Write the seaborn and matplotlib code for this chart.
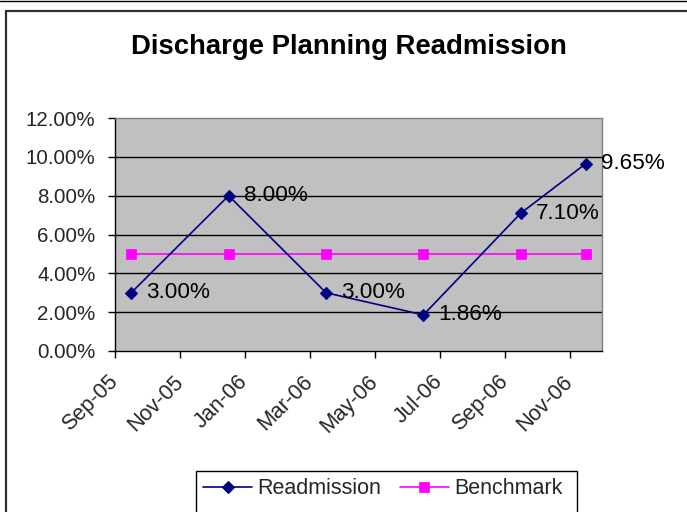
import matplotlib
matplotlib.use("Agg")
import matplotlib.pyplot as plt
import matplotlib.transforms as mtrans
from matplotlib.lines import Line2D
from matplotlib.patches import Rectangle
import seaborn as sns
import pandas as pd
import numpy as np

# ---- data ----
months = ["2005-09", "2005-12", "2006-03", "2006-06", "2006-09", "2006-11"]
readmission = [0.0300, 0.0800, 0.0300, 0.0186, 0.0710, 0.0965]
benchmark = [0.05, 0.05, 0.05, 0.05, 0.05, 0.05]
tick_labels = ["Sep-05", "Nov-05", "Jan-06", "Mar-06", "May-06", "Jul-06", "Sep-06", "Nov-06"]
y_ticks = [0.00, 0.02, 0.04, 0.06, 0.08, 0.10, 0.12]

sns.set_theme(style="white")
plt.rcParams["font.family"] = ["Liberation Sans", "DejaVu Sans"]

start = pd.Period("2005-09", freq="M")
pos = [(pd.Period(m, freq="M") - start).n + 0.5 for m in months]
df = pd.DataFrame({"x": pos, "Readmission": readmission, "Benchmark": benchmark})

W, H = 687, 512
fig = plt.figure(figsize=(W / 100, H / 100), dpi=100)
fig.patch.set_facecolor("white")
ax = fig.add_axes([115 / W, 1 - 351 / H, (602 - 115) / W, (351 - 118) / H])
ax.set_facecolor("#C0C0C0")

for y in y_ticks[1:-1]:
    ax.axhline(y, color="black", lw=1.0, zorder=1)

sns.lineplot(data=df, x="x", y="Readmission", ax=ax, color="#000080", lw=1.2,
             marker="D", markersize=6, markeredgecolor="#000080", markeredgewidth=0.8,
             label="Readmission", zorder=4, legend=False)
sns.lineplot(data=df, x="x", y="Benchmark", ax=ax, color="#FF00FF", lw=1.2,
             marker="s", markersize=7, markeredgecolor="#FF00FF", markeredgewidth=0.5,
             label="Benchmark", zorder=3, legend=False)

for x, v in zip(pos, readmission):
    ax.annotate(f"{v*100:.2f}%", (x, v), xytext=(11, 0), textcoords="offset points",
                ha="left", va="center", fontsize=16.2, color="black", zorder=5)

ax.set_xlim(0, 15)
ax.set_ylim(0, 0.12)
ax.set_xticks(np.arange(0, 16, 2))
ax.set_xticklabels(tick_labels, rotation=45, ha="right", va="center",
                   rotation_mode="anchor", fontsize=15.5)
shift = mtrans.ScaledTranslation(4 / 100, -3 / 100, fig.dpi_scale_trans)
for lbl in ax.get_xticklabels():
    lbl.set_transform(lbl.get_transform() + shift)
ax.set_yticks(y_ticks)
ax.set_yticklabels([f"{v*100:.2f}%" for v in y_ticks], fontsize=14.8)
ax.tick_params(axis="both", direction="out", length=5, width=1, color="black",
               left=True, bottom=True)
ax.tick_params(axis="y", pad=9)
ax.tick_params(axis="x", pad=15)
ax.set_xlabel("")
ax.set_ylabel("")

for s in ["left", "bottom"]:
    ax.spines[s].set_color("black")
    ax.spines[s].set_linewidth(1.0)
for s in ["top", "right"]:
    ax.spines[s].set_color("#808080")
    ax.spines[s].set_linewidth(1.0)

fig.text(348.5 / W, 1 - 47 / H, "Discharge Planning Readmission", ha="center", va="center",
         fontsize=19.8, fontweight="bold", color="black")

# legend (frame drawn separately; it runs past the bottom edge as in the reference)
fig.add_artist(Rectangle((195.5 / W, -0.05), (577 - 195.5) / W, (1 - 470.5 / H) + 0.05,
                         transform=fig.transFigure, facecolor="white",
                         edgecolor="black", lw=1.0, zorder=1))
handles = [
    Line2D([], [], color="#000080", lw=1.2, marker="D", markersize=6,
           markeredgecolor="#000080", markeredgewidth=0.8),
    Line2D([], [], color="#FF00FF", lw=1.2, marker="s", markersize=7,
           markeredgecolor="#FF00FF", markeredgewidth=0.5),
]
leg = fig.legend(handles, ["Readmission", "Benchmark"], loc="center left",
                 bbox_to_anchor=(203 / W, 1 - 489 / H), ncol=2, fontsize=15.5,
                 frameon=False, borderpad=0, handlelength=2.28, handletextpad=0.23,
                 columnspacing=0.88, borderaxespad=0)
leg.set_zorder(2)

# outer chart border
fig.add_artist(Line2D([0, 1], [1 - 0.5 / H, 1 - 0.5 / H], transform=fig.transFigure,
                      color="black", lw=1.0))
fig.add_artist(Line2D([5.5 / W, 1], [1 - 10.5 / H, 1 - 10.5 / H], transform=fig.transFigure,
                      color="#303030", lw=1.6))
fig.add_artist(Line2D([5.5 / W, 5.5 / W], [0, 1 - 10.5 / H], transform=fig.transFigure,
                      color="#303030", lw=1.6))

fig.savefig("out.png", dpi=100, facecolor="white")
